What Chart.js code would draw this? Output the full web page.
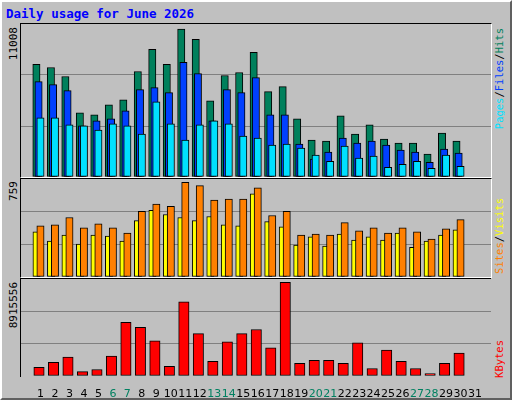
<!DOCTYPE html>
<html><head><meta charset="utf-8">
<script src="https://cdn.jsdelivr.net/npm/chart.js@4/dist/chart.umd.min.js"></script>
<style>
html,body{margin:0;padding:0;background:#fff;}
#frame{position:absolute;left:0;top:0;width:508px;height:396px;background:#c0c0c0;border-top:2px solid #fff;border-left:2px solid #fff;border-right:2px solid #606060;border-bottom:2px solid #606060;}
.panel{position:absolute;left:20px;width:470px;border-top:1px solid #000;border-left:1px solid #000;border-right:1px solid #fff;border-bottom:1px solid #fff;box-sizing:content-box;}
.vt{position:absolute;writing-mode:vertical-rl;transform:rotate(180deg);font-family:"DejaVu Sans Mono",monospace;white-space:nowrap;}
#title{position:absolute;left:6px;top:6px;font:bold 12.5px "DejaVu Sans Mono",monospace;color:#0000ff;}
</style></head><body>
<div id="frame"></div>
<div id="title">Daily usage for June 2026</div>
<div class="panel" style="top:23px;height:153px"><canvas id="c1"></canvas></div>
<div class="panel" style="top:178px;height:98px"><canvas id="c2"></canvas></div>
<div class="panel" style="top:278px;height:98px;border-bottom:none;border-right:none"></div>
<div style="position:absolute;left:21px;top:279px;width:470px;height:122px"><canvas id="c3"></canvas></div>
<div class="vt" id="l1" style="left:7px;top:27px;font-size:11px"></div>
<div class="vt" id="l2" style="left:7px;top:181px;font-size:11px"></div>
<div class="vt" id="l3" style="left:7px;top:282px;font-size:11px"></div>
<div class="vt" style="left:493px;top:28px;font-size:10.5px"><span style="color:#00e0ff">Pages</span>/<span style="color:#0040ff">Files</span>/<span style="color:#00805c">Hits</span></div>
<div class="vt" style="left:493px;top:198px;font-size:10.5px"><span style="color:#ff8000">Sites</span>/<span style="color:#ffff00">Visits</span></div>
<div class="vt" style="left:493px;top:340px;font-size:10.5px"><span style="color:#ff0000">KBytes</span></div>
<script>
const days = Array.from({length:31},(_,i)=>String(i+1));
const weekendDays = [6,7,13,14,20,21,27,28];
const hits  = [8381,8156,7481,4779,4629,5379,5754,7856,9507,8381,11008,10258,5679,7556,7781,9282,6355,6730,4328,2752,2677,4553,3202,3878,2827,2527,2527,1701,3277,2677];
const files = [7106,6881,6430,3803,4178,4328,4929,6505,6655,6280,8532,7706,4178,6505,6280,7406,4629,4629,2452,1326,1851,2902,2527,2677,2377,2002,1851,1101,2077,1776];
const pages = [4404,4404,3878,3803,3503,3953,3803,3203,5604,3953,2752,3878,4178,3953,3052,2902,2377,2452,2152,1626,1176,2302,1401,1551,726,951,1176,651,1626,801];
const visits= [362,288,337,263,337,329,288,452,534,501,477,452,485,419,411,666,444,403,255,321,247,345,296,321,296,353,238,288,337,378];
const sites = [411,419,477,395,427,395,353,526,584,567,759,732,617,625,625,715,493,526,337,345,337,436,370,395,353,395,362,304,386,460];
const kbytes= [813000,1302000,1790000,423000,618000,1887000,5108000,4620000,3351000,911000,7061000,4035000,1399000,3254000,4035000,4425000,2668000,8915556,1204000,1497000,1497000,1204000,3156000,716000,2473000,1399000,716000,228000,1204000,2180000];

const XMIN=0.18, XMAX=31.58;
function pts(arr,off){return arr.map((v,i)=>({x:i+1+off,y:v}));}
function ds(arr,off,color,order,w){return {data:pts(arr,off),backgroundColor:color,borderColor:'#000',borderWidth:1,borderSkipped:false,order:order,barThickness:w,grouped:false};}
function yScale(max){
  const top=max*1.035;
  return {min:0,max:top,display:true,border:{display:false},
    ticks:{display:false},
    afterBuildTicks:s=>{s.ticks=[0,top/3,2*top/3,top].map(v=>({value:v}));},
    grid:{drawTicks:false,color:c=>(c.index===1||c.index===2)?'#808080':'rgba(0,0,0,0)',lineWidth:1}};
}
function xScale(show){
  return {type:'linear',min:XMIN,max:XMAX,display:show,border:{display:false},grid:{display:false},
    afterBuildTicks:s=>{s.ticks=days.map(d=>({value:+d}));},
    afterFit:s=>{if(show)s.height=25;},
    ticks:{autoSkip:false,maxRotation:0,padding:4,font:{family:'DejaVu Sans',size:11},
      color:c=>weekendDays.includes(c.tick.value)?'#008060':'#000',
      callback:v=>days[v-1]}};
}
const base={responsive:true,maintainAspectRatio:false,animation:false,
  layout:{padding:0},plugins:{legend:{display:false},tooltip:{enabled:false}}};
Chart.defaults.datasets.bar.grouped=false;
new Chart(document.getElementById('c1'),{type:'bar',data:{datasets:[
  ds(hits,-0.28,'#00805c',3,7.3),ds(files,-0.13,'#0040ff',2,7.3),ds(pages,0,'#00e0ff',1,7.3)]},
  options:{...base,scales:{x:xScale(false),y:yScale(Math.max(...hits))}}});
new Chart(document.getElementById('c2'),{type:'bar',data:{datasets:[
  ds(visits,-0.27,'#ffff00',2,7.3),ds(sites,0,'#ff8000',1,7.3)]},
  options:{...base,scales:{x:xScale(false),y:yScale(Math.max(...sites))}}});
new Chart(document.getElementById('c3'),{type:'bar',data:{datasets:[
  ds(kbytes,-0.1,'#ff0000',1,10.4)]},
  options:{...base,scales:{x:xScale(true),y:yScale(Math.max(...kbytes))}}});
document.getElementById('l1').textContent=Math.max(...hits);
document.getElementById('l2').textContent=Math.max(...sites);
document.getElementById('l3').textContent=Math.max(...kbytes);
</script></body></html>
